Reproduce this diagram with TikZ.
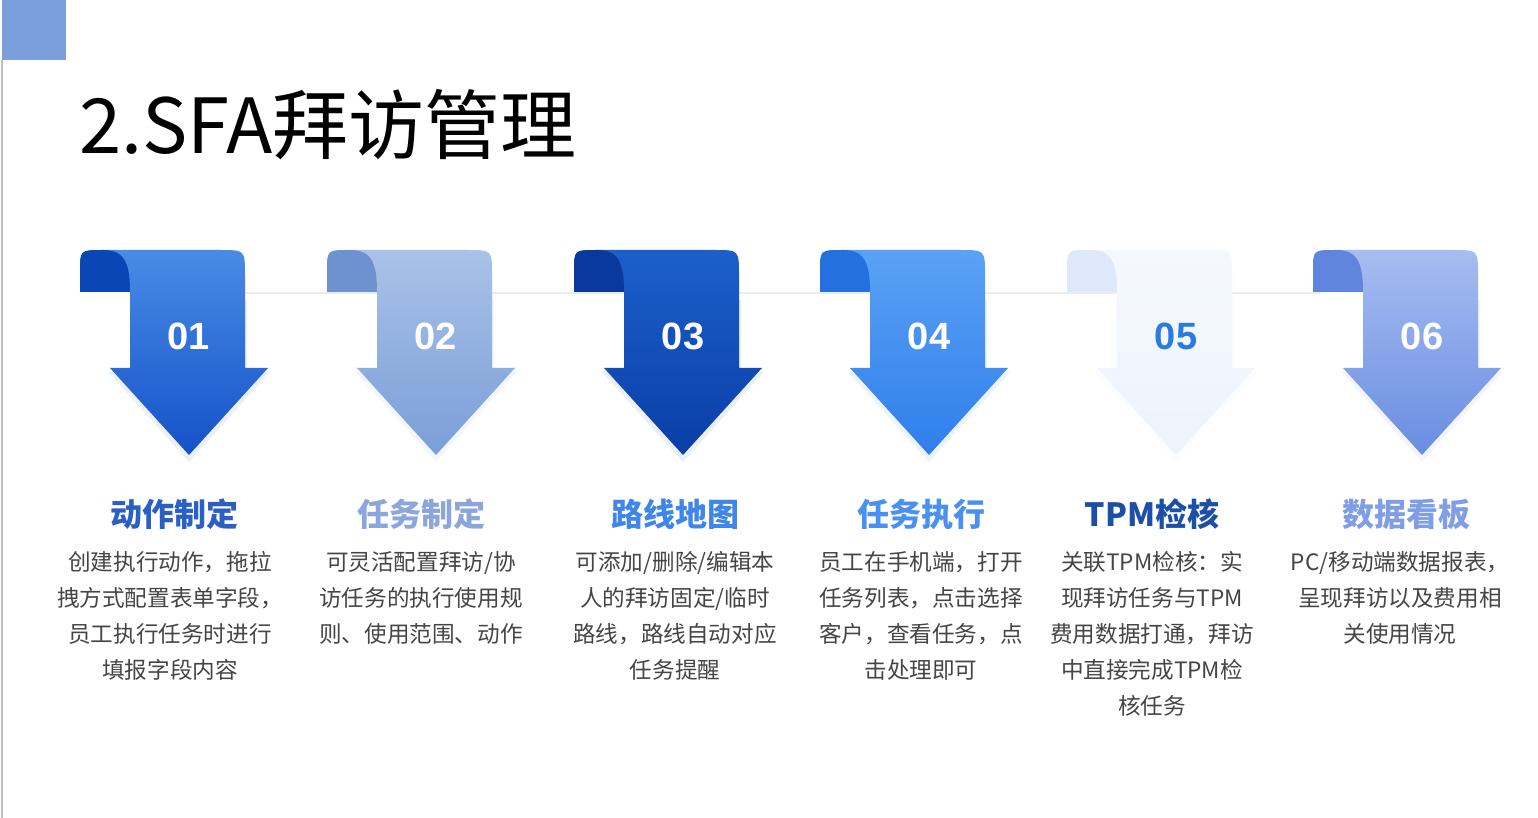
\documentclass[tikz,border=0pt]{standalone}
\usepackage{fontspec}
\setmainfont{Noto Sans CJK SC}
\newfontfamily\numfont{Liberation Sans}
\definecolor{bodytxt}{HTML}{454545}
\definecolor{sq}{HTML}{7A9FDC}
\definecolor{h1c}{HTML}{2A5FC4}\definecolor{h2c}{HTML}{8AA6DB}\definecolor{h3c}{HTML}{3F86EA}
\definecolor{h4c}{HTML}{4A90F0}\definecolor{h5c}{HTML}{1E4FA8}\definecolor{h6c}{HTML}{7F9EE6}
\definecolor{a1t}{HTML}{4A8BE6}\definecolor{a1b}{HTML}{1452C8}\definecolor{a1f}{HTML}{0A47B5}
\definecolor{a2t}{HTML}{A9C2E8}\definecolor{a2b}{HTML}{7A9ED8}\definecolor{a2f}{HTML}{6D92CF}
\definecolor{a3t}{HTML}{1C5FCB}\definecolor{a3b}{HTML}{0A3EA8}\definecolor{a3f}{HTML}{08399C}
\definecolor{a4t}{HTML}{5AA2F5}\definecolor{a4b}{HTML}{2F7EEB}\definecolor{a4f}{HTML}{2470E0}
\definecolor{a5t}{HTML}{F5F8FE}\definecolor{a5b}{HTML}{EEF3FC}\definecolor{a5f}{HTML}{DDE8FA}
\definecolor{a6t}{HTML}{A6BDF0}\definecolor{a6b}{HTML}{6A8DE2}\definecolor{a6f}{HTML}{5F85DE}
\definecolor{t5}{HTML}{2B7AE0}
\newcommand{\sfaarrow}[7]{%
 \fill[#4,opacity=0.08] (#1-58,300) -- (#1-58,372) -- (#1-80,372) -- (#1+1,462) -- (#1+82,372) -- (#1+59,372) -- (#1+59,300) -- cycle;
 \shade[top color=#2,bottom color=#3] (#1-108,292) -- (#1-108,272) .. controls (#1-108,250) .. (#1-85,250) -- (#1+32,250) .. controls (#1+57,250) .. (#1+57,275) -- (#1+57,368) -- (#1+80,368) -- (#1+1,455) -- (#1-78,368) -- (#1-58,368) -- (#1-58,292) -- cycle;
 \fill[#4] (#1-108,292) -- (#1-108,272) .. controls (#1-108,250) .. (#1-85,250) .. controls (#1-64,250) and (#1-58,262) .. (#1-58,292) -- cycle;
 \node[text=#5,font=\numfont\bfseries\fontsize{19pt}{22pt}\selectfont] (n#6) at (#1+1,336) {#7};}
\begin{document}
\begin{tikzpicture}[x=0.5pt,y=-0.5pt,
 head/.style={font=\fontsize{16pt}{18pt}\selectfont\bfseries},
 desc/.style={font=\fontsize{11.3pt}{18pt}\selectfont,text=bodytxt,align=center,anchor=north}]
\useasboundingbox (0,0) rectangle (1538,818);
\fill[white] (0,0) rectangle (1538,818);
\fill[sq] (2,0) rectangle (66,60);
\draw[gray!50,line width=1pt] (2,60) -- (2,818);
\node[anchor=west,font=\fontsize{38pt}{44pt}\selectfont] (title) at (72,125) {2.SFA拜访管理};
\draw[gray!15,line width=1pt] (240,293) -- (1320,293);
\sfaarrow{188}{a1t}{a1b}{a1f}{white}{1}{01}
\sfaarrow{435}{a2t}{a2b}{a2f}{white}{2}{02}
\sfaarrow{682}{a3t}{a3b}{a3f}{white}{3}{03}
\sfaarrow{928}{a4t}{a4b}{a4f}{white}{4}{04}
\sfaarrow{1175}{a5t}{a5b}{a5f}{t5}{5}{05}
\sfaarrow{1421}{a6t}{a6b}{a6f}{white}{6}{06}
\node[head,text=h1c] (h1) at (174,514) {动作制定};
\node[head,text=h2c] (h2) at (421,514) {任务制定};
\node[head,text=h3c] (h3) at (675,514) {路线地图};
\node[head,text=h4c] (h4) at (921,514) {任务执行};
\node[head,text=h5c] (h5) at (1152,514) {TPM检核};
\node[head,text=h6c] (h6) at (1406,514) {数据看板};
\node[desc] (d1) at (170,544) {创建执行动作，拖拉\\拽方式配置表单字段，\\员工执行任务时进行\\填报字段内容};
\node[desc] (d2) at (421,544) {可灵活配置拜访/协\\访任务的执行使用规\\则、使用范围、动作};
\node[desc] (d3) at (675,544) {可添加/删除/编辑本\\人的拜访固定/临时\\路线，路线自动对应\\任务提醒};
\node[desc] (d4) at (921,544) {员工在手机端，打开\\任务列表，点击选择\\客户，查看任务，点\\击处理即可};
\node[desc] (d5) at (1152,544) {关联TPM检核：实\\现拜访任务与TPM\\费用数据打通，拜访\\中直接完成TPM检\\核任务};
\node[desc] (d6) at (1400,544) {PC/移动端数据报表，\\呈现拜访以及费用相\\关使用情况};
\end{tikzpicture}
\end{document}
